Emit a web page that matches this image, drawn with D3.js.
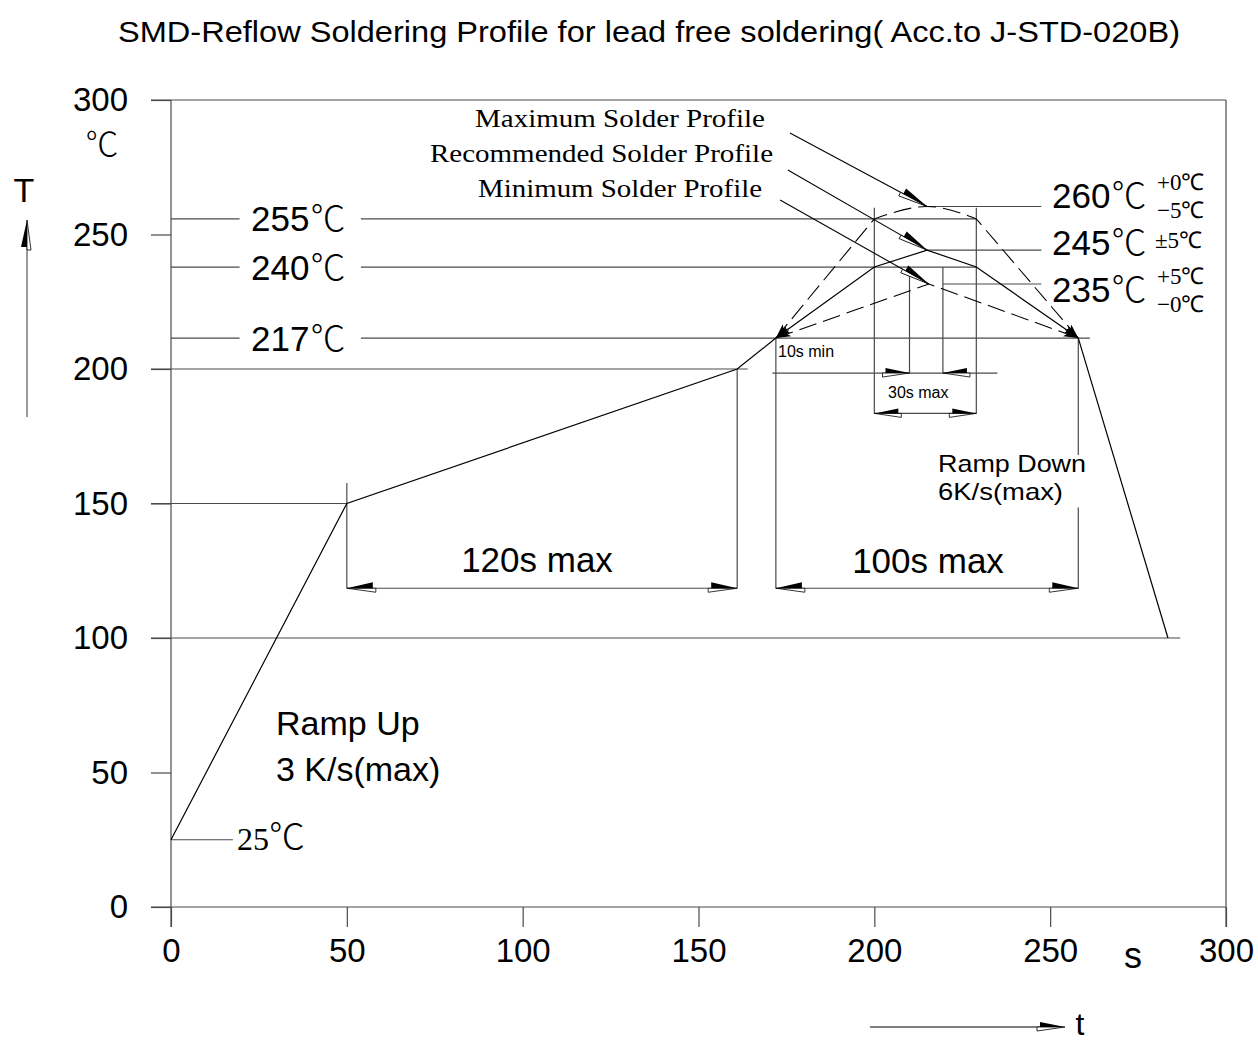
<!DOCTYPE html>
<html><head><meta charset="utf-8">
<script src="https://cdn.jsdelivr.net/npm/d3@7"></script>
<style>body{margin:0;background:#fff}svg{display:block}</style>
</head><body>
<svg id="c" width="1258" height="1043"></svg>
<script>
// ---- data (temperatures as drawn against the axis; labels as printed) ----
const xTicks = [0, 50, 100, 150, 200, 250, 300];
const yTicks = [0, 50, 100, 150, 200, 250, 300];
const rampTime = [0, 50, 161, 172];
const rampTemp = [25, 150, 200, 211.5];
const coolTime = [258, 283.5];
const coolTemp = [211.5, 100];
const maxTime = [172, 200, 215, 229, 258];
const maxTemp = [211.5, 255.8, 260.4, 255.8, 211.5];
const recTime = [172, 200, 215, 229, 258];
const recTemp = [211.5, 237.9, 244.2, 237.9, 211.5];
const minTime = [172, 215.5, 258];
const minTemp = [211.5, 231.6, 211.5];
const levelTemps = [255.8, 237.9, 211.5];
const levelLabels = ["255", "240", "217"];
const peakTemps = [260.4, 244.2, 231.6];
const peakLabels = ["260", "245", "235"];
const peakTolUp = ["+0℃", "±5℃", "+5℃"];
const peakTolDn = ["−5℃", "", "−0℃"];
const profileNames = ["Maximum Solder Profile", "Recommended Solder Profile", "Minimum Solder Profile"];
const leaderStartTime = [176, 175.4, 173.2];
const leaderStartTemp = [287.7, 274, 262.8];
const leaderEndTime = [215, 215, 215.5];
const leaderEndTemp = [260.4, 244.2, 231.6];

const svg = d3.select("#c");
const x = d3.scaleLinear().domain([0, 300]).range([171, 1226]);
const y = d3.scaleLinear().domain([0, 300]).range([907, 100]);
const SANS = "'Liberation Sans', Arial, sans-serif";
const SERIF = "'Liberation Serif', 'Times New Roman', serif";
const DEG = "'Noto Sans CJK SC', 'DejaVu Serif', serif";
const GRID = "#4a4a4a";

function seg(x1, y1, x2, y2, color, w, dash) {
  const l = svg.append("line").attr("x1", x1).attr("y1", y1).attr("x2", x2).attr("y2", y2)
    .attr("stroke", color || GRID).attr("stroke-width", w || 1.2);
  if (dash) l.attr("stroke-dasharray", dash);
  return l;
}
function arrow(tx, ty, angle, flip, L, w) {
  L = L || 26; w = w || 6;
  const s = flip ? -1 : 1;
  const g = svg.append("g").attr("transform", `translate(${tx},${ty}) rotate(${angle})`);
  g.append("path").attr("d", `M0,0 L${-L - 3},0 L${-L - 3},${4 * s} Z`)
    .attr("fill", "#fff").attr("stroke", "#000").attr("stroke-width", 0.8);
  g.append("path").attr("d", `M0,0 L${-L},${-w * s} L${-L},0 Z`).attr("fill", "#000");
}
function solidArrow(tx, ty, angle) {
  svg.append("g").attr("transform", `translate(${tx},${ty}) rotate(${angle})`)
    .append("path").attr("d", "M0,0 L-15,-3.5 L-12,0 L-15,3.5 Z").attr("fill", "#000");
}
const ang = (x1, y1, x2, y2) => Math.atan2(y2 - y1, x2 - x1) * 180 / Math.PI;

// ---- title ----
svg.append("text").attr("x", 118).attr("y", 42).attr("font-family", SANS).attr("font-size", 29)
  .attr("textLength", 1062).attr("lengthAdjust", "spacingAndGlyphs")
  .text("SMD-Reflow Soldering Profile for lead free soldering( Acc.to J-STD-020B)");

// ---- axes ----
const xAxis = svg.append("g").attr("transform", `translate(0,${y(0)})`)
  .call(d3.axisBottom(x).tickValues(xTicks).tickSize(20).tickSizeOuter(0).tickPadding(12));
const yAxis = svg.append("g").attr("transform", `translate(${x(0)},0)`)
  .call(d3.axisLeft(y).tickValues(yTicks).tickSize(20).tickSizeOuter(0).tickPadding(23));
[xAxis, yAxis].forEach(a => {
  a.select(".domain").remove();
  a.selectAll(".tick line").attr("stroke", GRID).attr("stroke-width", 1.2);
  a.selectAll("text").attr("font-family", SANS).attr("font-size", 33).attr("fill", "#000");
});
// frame
seg(151, y(0), x(300), y(0));
seg(151, y(300), x(300), y(300));
seg(x(300), y(300), x(300), y(0) + 20);
seg(x(0), y(300), x(0), y(0) + 20);

// unit labels
svg.append("text").attr("x", 102).attr("y", 156).attr("text-anchor", "middle")
  .attr("font-family", DEG).attr("font-weight", 300).attr("font-size", 33).text("℃");
svg.append("text").attr("x", 24).attr("y", 202).attr("text-anchor", "middle")
  .attr("font-family", SANS).attr("font-size", 34).text("T");
seg(27, 417, 27, 225, "#555", 1.2);
arrow(27, 220, -90, false, 27, 6);
svg.append("text").attr("x", 1133).attr("y", 968).attr("text-anchor", "middle")
  .attr("font-family", SANS).attr("font-size", 36).text("s");
seg(870, 1027, 1040, 1027, "#000", 1.2);
arrow(1065, 1027, 0, false, 25, 5);
svg.append("text").attr("x", 1080).attr("y", 1035).attr("text-anchor", "middle")
  .attr("font-family", SANS).attr("font-size", 32).text("t");

// ---- reference / extension lines ----
seg(151, y(200), x(164), y(200));
seg(151, y(150), x(50), y(150));
seg(151, y(100), x(287), y(100));
seg(x(0), y(25), x(17.6), y(25));
const levelEnd = [229, 229, 261.3];
levelTemps.forEach((t, i) => {
  seg(x(0), y(t), x(19.5), y(t));
  seg(x(54), y(t), x(levelEnd[i]), y(t));
});
const peakStart = [215, 215, 219.5];
peakTemps.forEach((t, i) => seg(x(peakStart[i]), y(t), x(247.5), y(t)));
// verticals
seg(x(50), y(157.6), x(50), y(118.5));
seg(x(161), y(200), x(161), y(118.5));
seg(x(172), y(211.5), x(172), y(118.5));
seg(x(258), y(211.5), x(258), y(168));
seg(x(258), y(148.5), x(258), y(118.5));
seg(x(200), y(259.9), x(200), y(183.5));
seg(x(229), y(259.9), x(229), y(183.5));
seg(x(210), y(237.9), x(210), y(198.5));
seg(x(219.5), y(237.9), x(219.5), y(198.5));

// ---- dimension lines ----
seg(x(50), y(118.5), x(161), y(118.5));
arrow(x(50), y(118.5), 180, true); arrow(x(161), y(118.5), 0, false);
seg(x(172), y(118.5), x(258), y(118.5));
arrow(x(172), y(118.5), 180, true); arrow(x(258), y(118.5), 0, false);
seg(x(171), y(198.5), x(235), y(198.5));
arrow(x(210), y(198.5), 0, false, 24, 5); arrow(x(219.5), y(198.5), 180, true, 24, 5);
seg(x(200), y(183.5), x(229), y(183.5));
arrow(x(200), y(183.5), 180, true, 24, 5); arrow(x(229), y(183.5), 0, false, 24, 5);

// ---- profiles ----
const line = d3.line().x(d => x(d[0])).y(d => y(d[1]));
const zip = (a, b) => a.map((v, i) => [v, b[i]]);
svg.append("path").attr("d", line(zip(rampTime, rampTemp))).attr("fill", "none").attr("stroke", "#000").attr("stroke-width", 1.2);
svg.append("path").attr("d", line(zip(coolTime, coolTemp))).attr("fill", "none").attr("stroke", "#000").attr("stroke-width", 1.2);
svg.append("path").attr("d", line(zip(recTime, recTemp))).attr("fill", "none").attr("stroke", "#000").attr("stroke-width", 1.2);
const maxPts = zip(maxTime, maxTemp);
const maxPath = line(maxPts.slice(0, 2)) + d3.line().x(d => x(d[0])).y(d => y(d[1])).curve(d3.curveNatural)(maxPts.slice(1, 4)).replace(/^M/, "L") + line(maxPts.slice(3)).replace(/^M/, "L");
svg.append("path").attr("d", maxPath).attr("fill", "none").attr("stroke", "#000").attr("stroke-width", 1.1).attr("stroke-dasharray", "18,7");
svg.append("path").attr("d", line(zip(minTime, minTemp))).attr("fill", "none").attr("stroke", "#000").attr("stroke-width", 1.1).attr("stroke-dasharray", "18,7");
// small arrowheads at 217 end points
[[maxPts[1], maxPts[0]], [[recTime[1], recTemp[1]], [recTime[0], recTemp[0]]], [[minTime[1], minTemp[1]], [minTime[0], minTemp[0]]],
 [maxPts[3], maxPts[4]], [[recTime[3], recTemp[3]], [recTime[4], recTemp[4]]], [[minTime[1], minTemp[1]], [minTime[2], minTemp[2]]]]
  .forEach(([a, b]) => solidArrow(x(b[0]), y(b[1]), ang(x(a[0]), y(a[1]), x(b[0]), y(b[1]))));

// ---- leaders ----
profileNames.forEach((n, i) => {
  const x1 = x(leaderStartTime[i]), y1 = y(leaderStartTemp[i]), x2 = x(leaderEndTime[i]), y2 = y(leaderEndTemp[i]);
  seg(x1, y1, x2, y2, "#000", 1.1);
  arrow(x2, y2, ang(x1, y1, x2, y2), false, 27, 6);
});
const nameX = [475, 430, 478], nameY = [127, 162, 197], nameW = [290, 343, 284];
profileNames.forEach((n, i) => {
  svg.append("text").attr("x", nameX[i]).attr("y", nameY[i]).attr("font-family", SERIF).attr("font-size", 25)
    .attr("textLength", nameW[i]).attr("lengthAdjust", "spacingAndGlyphs").text(n);
});

// ---- level labels ----
const levelBase = [231, 280, 351];
levelLabels.forEach((t, i) => {
  const tx = svg.append("text").attr("x", 251).attr("y", levelBase[i]).attr("font-size", 35);
  tx.append("tspan").attr("font-family", SANS).text(t);
  tx.append("tspan").attr("font-family", DEG).attr("font-weight", 300).attr("font-size", 35).attr("dx", 1).text("℃");
});
const peakBase = [208, 255, 302];
peakLabels.forEach((t, i) => {
  const tx = svg.append("text").attr("x", 1052).attr("y", peakBase[i]).attr("font-size", 35);
  tx.append("tspan").attr("font-family", SANS).text(t);
  tx.append("tspan").attr("font-family", DEG).attr("font-weight", 300).attr("font-size", 35).attr("dx", 1).text("℃");
  if (peakTolDn[i]) {
    svg.append("text").attr("x", 1157).attr("y", peakBase[i] - 18).attr("font-family", SERIF).attr("font-size", 23).text(peakTolUp[i]);
    svg.append("text").attr("x", 1157).attr("y", peakBase[i] + 10).attr("font-family", SERIF).attr("font-size", 23).text(peakTolDn[i]);
  } else {
    svg.append("text").attr("x", 1155).attr("y", peakBase[i] - 7).attr("font-family", SERIF).attr("font-size", 23).text(peakTolUp[i]);
  }
});
const t25 = svg.append("text").attr("x", 237).attr("y", 850).attr("font-size", 32);
t25.append("tspan").attr("font-family", SERIF).text("25");
t25.append("tspan").attr("font-family", DEG).attr("font-weight", 300).attr("font-size", 36).text("℃");

// ---- other texts ----
const txt = (s, tx, ty, fs, anchor, len) => {
  const t = svg.append("text").attr("x", tx).attr("y", ty).attr("font-family", SANS)
    .attr("font-size", fs).attr("text-anchor", anchor || "start").text(s);
  if (len) t.attr("textLength", len).attr("lengthAdjust", "spacingAndGlyphs");
  return t;
};
txt("120s max", 537, 572, 35, "middle");
txt("100s max", 928, 573, 35, "middle");
txt("Ramp Down", 938, 472, 24, "start", 148);
txt("6K/s(max)", 938, 500, 24, "start", 125);
txt("Ramp Up", 276, 735, 34);
txt("3 K/s(max)", 276, 781, 34);
txt("10s min", 778, 357, 16);
txt("30s max", 888, 398, 16);
</script>
</body></html>
